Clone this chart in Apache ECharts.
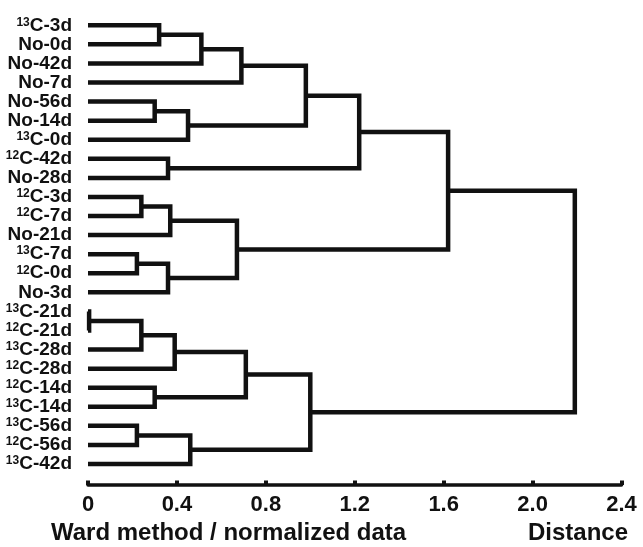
<!DOCTYPE html>
<html><head><meta charset="utf-8">
<script src="https://cdn.jsdelivr.net/npm/echarts@6/dist/echarts.min.js"></script>
<style>html,body{margin:0;padding:0;background:#fff}#c{width:643px;height:547px}</style>
</head><body><div id="c"></div>
<script>
// Leaf labels, top to bottom
const leaves = ['13C-3d','No-0d','No-42d','No-7d','No-56d','No-14d','13C-0d','12C-42d','No-28d',
  '12C-3d','12C-7d','No-21d','13C-7d','12C-0d','No-3d','13C-21d','12C-21d','13C-28d','12C-28d',
  '12C-14d','13C-14d','13C-56d','12C-56d','13C-42d'];
// Linkage: node ids 0..23 are leaves, merge k creates node 24+k
const mergeLeft   = [0, 24, 25, 4, 27, 26, 7, 29, 9, 32, 12, 34, 33, 31, 15, 38, 39, 19, 40, 21, 43, 42, 37];
const mergeRight  = [1, 2, 3, 5, 6, 28, 8, 30, 10, 11, 13, 14, 35, 36, 16, 17, 18, 20, 41, 22, 23, 44, 45];
const mergeHeight = [0.32, 0.51, 0.69, 0.30, 0.45, 0.98, 0.36, 1.22, 0.24, 0.37, 0.22, 0.36, 0.67, 1.62,
  0.005, 0.24, 0.39, 0.30, 0.71, 0.22, 0.46, 1.00, 2.19];
const tickValues = [0, 0.4, 0.8, 1.2, 1.6, 2.0, 2.4];
const tickLabels = ['0', '0.4', '0.8', '1.2', '1.6', '2.0', '2.4'];

const FONT = '"Liberation Sans", Arial, Helvetica, sans-serif';
const INK = '#111';

const n = leaves.length;
const nodeY = leaves.map((_, i) => i);
const nodeH = leaves.map(() => 0);
const links = [];
mergeLeft.forEach((l, k) => {
  const r = mergeRight[k], h = mergeHeight[k];
  nodeY.push((nodeY[l] + nodeY[r]) / 2);
  nodeH.push(h);
  links.push([nodeH[l], nodeY[l], h, nodeY[r], nodeH[r]]);
});

const chart = echarts.init(document.getElementById('c'), null, {renderer: 'canvas'});
chart.setOption({
  animation: false,
  backgroundColor: '#fff',
  grid: [
    {left: 88, width: 533.5, top: 10, height: 475},
    {left: 88, width: 10, top: 15.77, height: 457.7}
  ],
  title: [
    {text: 'Ward method / normalized data', left: 51, top: 521, padding: 0,
     textStyle: {fontFamily: FONT, fontSize: 24, fontWeight: 'bold', color: INK}},
    {text: 'Distance', right: 15, top: 521, padding: 0,
     textStyle: {fontFamily: FONT, fontSize: 24, fontWeight: 'bold', color: INK}}
  ],
  xAxis: [
    {gridIndex: 0, type: 'value', position: 'bottom', min: 0, max: 2.4, interval: 0.4,
     axisLine: {show: true, onZero: false, lineStyle: {color: INK, width: 3.5}},
     axisTick: {show: true, inside: true, length: 4.5, lineStyle: {color: INK, width: 4}},
     splitLine: {show: false},
     axisLabel: {margin: 9, fontFamily: FONT, fontSize: 22, fontWeight: 'bold', color: INK,
       formatter: v => { const i = tickValues.findIndex(t => Math.abs(t - v) < 1e-6); return i >= 0 ? tickLabels[i] : ''; }}},
    {gridIndex: 1, type: 'value', show: false}
  ],
  yAxis: [
    {gridIndex: 0, type: 'value', inverse: true, min: -0.802, max: 24.101, show: false},
    {gridIndex: 1, type: 'category', inverse: true, data: leaves,
     axisLine: {show: false}, axisTick: {show: false}, splitLine: {show: false},
     axisLabel: {margin: 16, interval: 0,
       formatter: v => { const m = v.match(/^(\d+)(.*)$/); return m ? '{s|' + m[1] + '}{b|' + m[2] + '}' : '{b|' + v + '}'; },
       rich: {
         b: {fontFamily: FONT, fontSize: 19, fontWeight: 'bold', color: INK, lineHeight: 20},
         s: {fontFamily: FONT, fontSize: 12, fontWeight: 'bold', color: INK, lineHeight: 12, verticalAlign: 'top', padding: [1, 0, 0, 0]}
       }}}
  ],
  series: [{
    type: 'custom',
    xAxisIndex: 0, yAxisIndex: 0,
    data: links,
    encode: {x: [0, 2, 4], y: [1, 3]},
    renderItem: (params, api) => {
      const pts = [
        api.coord([api.value(0), api.value(1)]),
        api.coord([api.value(2), api.value(1)]),
        api.coord([api.value(2), api.value(3)]),
        api.coord([api.value(4), api.value(3)])
      ];
      return {type: 'polyline', shape: {points: pts},
        style: {stroke: INK, lineWidth: 4.5, fill: null, lineJoin: 'miter', lineCap: 'butt'}};
    }
  }]
});
</script>
</body></html>
